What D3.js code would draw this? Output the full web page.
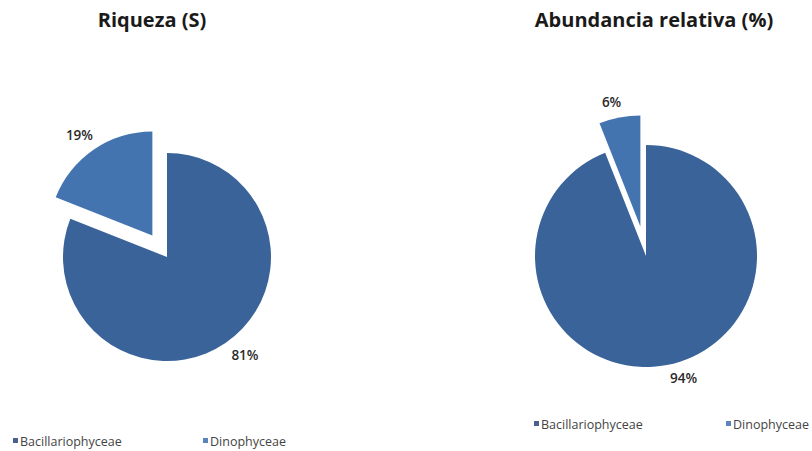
<!DOCTYPE html>
<html>
<head>
<meta charset="utf-8">
<script src="https://cdn.jsdelivr.net/npm/d3@7"></script>
<style>
  body { margin: 0; background: #fff; }
  svg { display: block; }
</style>
</head>
<body>
<div id="chart"></div>
<script>
const categories = ["Bacillariophyceae", "Dinophyceae"];
const riqueza = [81, 19];
const abundancia = [94, 6];
const titles = ["Riqueza (S)", "Abundancia relativa (%)"];

const width = 812;
const height = 451;
const colors = ["#3a6399", "#4474b0"];
const legendColors = ["#4a618f", "#5a84bb"];

const svg = d3.select("#chart")
  .append("svg")
  .attr("width", width)
  .attr("height", height);

const panels = [
  { values: riqueza, title: titles[0], cx: 167, cy: 257, r: 104, explode: 26, titleX: 152,
    legendY: 441, legendX: [13, 203] },
  { values: abundancia, title: titles[1], cx: 646, cy: 256, r: 111, explode: 30, titleX: 654,
    legendY: 424, legendX: [534, 726] }
];

const pie = d3.pie().sort(null).value((d) => d.value);

panels.forEach((p) => {
  const g = svg.append("g");

  g.append("text")
    .attr("x", p.titleX)
    .attr("y", 19)
    .attr("text-anchor", "middle")
    .attr("dominant-baseline", "central")
    .attr("font-family", "Open Sans, sans-serif")
    .attr("font-weight", "bold")
    .attr("font-size", 20)
    .attr("fill", "#1a1a1a")
    .text(p.title);

  const data = categories.map((c, i) => ({ name: c, value: p.values[i] }));
  const arcs = pie(data);
  const arc = d3.arc().innerRadius(0).outerRadius(p.r);

  arcs.forEach((a, i) => {
    const mid = (a.startAngle + a.endAngle) / 2;
    const dx = Math.sin(mid);
    const dy = -Math.cos(mid);
    const off = i === 1 ? p.explode : 0;
    const ox = p.cx + dx * off;
    const oy = p.cy + dy * off;

    g.append("path")
      .attr("d", arc(a))
      .attr("transform", `translate(${ox},${oy})`)
      .attr("fill", colors[i]);

    // outside-end label
    const lx = ox + dx * (p.r + 7);
    const ly = oy + dy * (p.r + 7);
    g.append("text")
      .attr("x", lx + (dx > 0 ? 2 : 3))
      .attr("y", ly + (dy > 0 ? 6 : -9))
      .attr("text-anchor", dx > 0 ? "start" : "end")
      .attr("dominant-baseline", "central")
      .attr("font-family", "Open Sans, sans-serif")
      .attr("font-weight", 600)
      .attr("font-size", 13.5)
      .attr("fill", "#2a2a2a")
      .text(`${p.values[i]}%`);
  });

  // legend
  categories.forEach((c, i) => {
    g.append("rect")
      .attr("x", p.legendX[i])
      .attr("y", p.legendY - 3)
      .attr("width", 5)
      .attr("height", 5)
      .attr("fill", legendColors[i]);
    g.append("text")
      .attr("x", p.legendX[i] + 7)
      .attr("y", p.legendY)
      .attr("dominant-baseline", "central")
      .attr("font-family", "Open Sans, sans-serif")
      .attr("font-size", 12.5)
      .attr("fill", "#444")
      .text(c);
  });
});
</script>
</body>
</html>
